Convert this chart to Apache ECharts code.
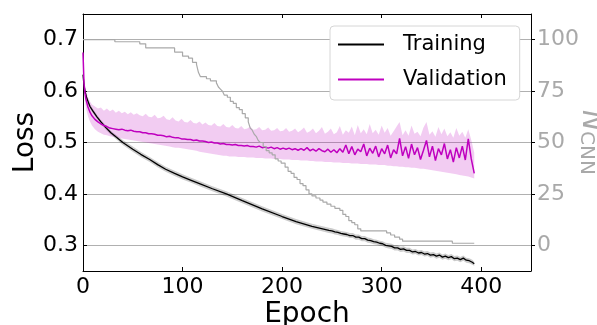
<!DOCTYPE html>
<html>
<head>
<meta charset="utf-8">
<script src="https://cdn.jsdelivr.net/npm/echarts@6/dist/echarts.min.js"></script>
<style>html,body{margin:0;padding:0;background:#fff}#c{width:597px;height:325px}</style>
</head>
<body>
<div id="c"></div>
<script>
// ---- data ----
const xTicks = [0, 100, 200, 300, 400];
const lossTicks = [0.3, 0.4, 0.5, 0.6, 0.7];
const nTicks = [0, 25, 50, 75, 100];

// training: [epoch, mean loss, band half-width]
const training = [
[0,0.632,0.003],[1,0.612,0.004],[2,0.600,0.004],[4,0.585,0.004],[7,0.570,0.004],[10,0.561,0.004],
[14,0.550,0.004],[18,0.540,0.004],[23,0.529,0.004],[28,0.519,0.004],[33,0.511,0.004],[40,0.500,0.005],
[50,0.487,0.005],[58,0.477,0.005],[67,0.467,0.005],[75,0.457,0.005],[83,0.448,0.005],[92,0.440,0.005],
[100,0.433,0.005],[108,0.427,0.005],[117,0.420,0.005],[130,0.410,0.005],[144,0.400,0.005],[160,0.387,0.005],
[180,0.371,0.005],[200,0.356,0.005],[214,0.346,0.005],[230,0.337,0.005],[247,0.329,0.005],
[250,0.328,0.005],[253,0.326,0.005],[256,0.325,0.005],[259,0.323,0.005],[262,0.322,0.005],[265,0.321,0.005],
[268,0.319,0.005],[271,0.319,0.005],[274,0.316,0.005],[277,0.316,0.005],[280,0.313,0.005],[283,0.313,0.005],
[286,0.310,0.005],[289,0.309,0.005],[292,0.307,0.005],[295,0.306,0.005],[298,0.304,0.005],[301,0.303,0.005],
[304,0.300,0.005],[307,0.299,0.005],[310,0.298,0.005],[313,0.295,0.005],[316,0.295,0.005],[319,0.292,0.005],
[322,0.293,0.005],[325,0.290,0.005],[328,0.290,0.005],[331,0.287,0.005],[334,0.288,0.005],[337,0.285,0.005],
[340,0.286,0.005],[343,0.283,0.005],[346,0.284,0.005],[349,0.281,0.005],[352,0.282,0.005],[355,0.279,0.005],
[358,0.281,0.005],[361,0.277,0.005],[364,0.279,0.005],[367,0.276,0.005],[370,0.278,0.005],[373,0.274,0.005],
[376,0.275,0.005],[379,0.272,0.005],[382,0.275,0.005],[385,0.271,0.005],[388,0.270,0.005],[391,0.267,0.005],
[393,0.264,0.004]
];

// validation: [epoch, mean loss, band low, band high]
const validation = [
[0,0.675,0.672,0.678],[1,0.615,0.600,0.630],[2,0.596,0.580,0.612],[3,0.584,0.567,0.601],[5,0.569,0.551,0.588],
[7,0.559,0.541,0.580],[9,0.552,0.533,0.574],[12,0.545,0.526,0.570],[15,0.540,0.521,0.566],[18,0.536,0.518,0.568],
[21,0.533,0.515,0.562],[24,0.531,0.514,0.566],[27,0.528,0.512,0.561],[30,0.527,0.511,0.564],[33,0.526,0.510,0.558],
[36,0.525,0.509,0.562],[39,0.526,0.508,0.557],[42,0.524,0.507,0.560],[45,0.523,0.506,0.555],[48,0.524,0.505,0.559],
[51,0.522,0.504,0.554],[54,0.521,0.503,0.557],[57,0.521,0.502,0.553],[60,0.519,0.501,0.551],[63,0.519,0.500,0.556],
[66,0.517,0.499,0.550],[69,0.517,0.498,0.549],[72,0.516,0.497,0.554],[75,0.514,0.496,0.547],[78,0.514,0.495,0.548],
[81,0.513,0.494,0.552],[84,0.511,0.493,0.545],[87,0.512,0.492,0.544],[90,0.510,0.491,0.549],[93,0.509,0.490,0.543],
[96,0.509,0.490,0.541],[99,0.507,0.489,0.546],[102,0.507,0.488,0.540],[105,0.506,0.487,0.539],[108,0.506,0.486,0.544],
[111,0.504,0.485,0.538],[114,0.505,0.484,0.537],[117,0.503,0.482,0.541],[120,0.503,0.481,0.535],[123,0.502,0.480,0.539],
[126,0.500,0.479,0.534],[129,0.501,0.478,0.533],[132,0.499,0.477,0.538],[135,0.499,0.476,0.532],[138,0.497,0.475,0.531],
[141,0.498,0.474,0.536],[144,0.496,0.474,0.530],[147,0.496,0.473,0.529],[150,0.495,0.473,0.534],[153,0.496,0.473,0.528],
[156,0.494,0.472,0.527],[159,0.494,0.472,0.532],[162,0.493,0.472,0.526],[165,0.494,0.471,0.527],[168,0.492,0.471,0.531],
[171,0.492,0.471,0.525],[174,0.491,0.470,0.526],[177,0.493,0.470,0.530],[180,0.490,0.470,0.524],[183,0.491,0.469,0.525],
[186,0.489,0.469,0.529],[189,0.491,0.469,0.523],[192,0.488,0.468,0.524],[195,0.490,0.468,0.528],[198,0.487,0.468,0.522],
[201,0.489,0.467,0.523],[204,0.487,0.467,0.528],[207,0.489,0.467,0.521],[210,0.486,0.466,0.523],[213,0.488,0.466,0.527],
[216,0.485,0.466,0.520],[219,0.488,0.465,0.524],[222,0.485,0.465,0.529],[225,0.490,0.465,0.519],[228,0.484,0.464,0.522],
[231,0.487,0.464,0.527],[234,0.483,0.463,0.518],[237,0.488,0.463,0.523],[240,0.484,0.463,0.530],[243,0.482,0.462,0.517],
[246,0.487,0.462,0.521],[249,0.481,0.462,0.527],[252,0.486,0.461,0.516],[255,0.480,0.461,0.520],[258,0.488,0.461,0.532],
[261,0.481,0.460,0.515],[264,0.495,0.460,0.524],[267,0.478,0.460,0.519],[270,0.492,0.459,0.531],[273,0.476,0.459,0.514],
[276,0.487,0.459,0.534],[279,0.482,0.458,0.518],[282,0.497,0.458,0.526],[285,0.474,0.458,0.516],[288,0.489,0.457,0.536],
[291,0.479,0.457,0.518],[294,0.493,0.457,0.525],[297,0.472,0.456,0.515],[300,0.488,0.456,0.533],[303,0.478,0.456,0.519],
[306,0.495,0.455,0.528],[309,0.470,0.455,0.513],[312,0.486,0.454,0.522],[315,0.478,0.454,0.531],[318,0.508,0.453,0.540],
[321,0.474,0.453,0.514],[324,0.492,0.452,0.524],[327,0.469,0.452,0.513],[330,0.497,0.451,0.533],[333,0.476,0.451,0.517],
[336,0.490,0.450,0.521],[339,0.467,0.449,0.512],[342,0.485,0.449,0.529],[345,0.504,0.448,0.540],[348,0.472,0.447,0.515],
[351,0.493,0.446,0.522],[354,0.465,0.445,0.511],[357,0.488,0.444,0.530],[360,0.476,0.443,0.516],[363,0.498,0.442,0.527],
[366,0.468,0.441,0.512],[369,0.486,0.440,0.520],[372,0.462,0.439,0.509],[375,0.490,0.438,0.528],[378,0.470,0.437,0.513],
[381,0.493,0.436,0.521],[384,0.466,0.435,0.509],[387,0.507,0.434,0.526],[390,0.468,0.432,0.505],[393,0.440,0.430,0.480]
];

// number of CNNs: [epoch, N] (value holds until the next epoch listed)
const nCnn = [
[0,100],[32,99],[57,98],[63,96],[92,94],[100,92],[106,91],[110,89],[114,88],[116,84],[118,82],[124,81],[128,80],
[134,79],[136,77],[138,76],[140,75],[142,73],[145,72],[148,70],[151,69],[154,67],[157,66],[160,64],[163,62],[166,60],
[168,57],[170,56],[172,54],[174,53],[176,51],[178,50],[181,48],[184,46],[187,45],[190,44],[193,42],[196,41],[199,40],
[203,38],[206,36],[209,35],[212,33],[215,32],[218,30],[221,29],[224,27],[227,25],[230,24],[234,23],[238,22],[241,21],
[245,20],[249,19],[253,18],[258,17],[261,15],[264,14],[267,12],[270,11],[273,10],[276,8],[279,7],[305,6],[309,5],
[313,4],[318,3],[321,2],[371,1],[393,1]
];

// ---- chart ----
const FONT = 'DejaVu Sans';
const GREY = '#a9a9a9';
const chart = echarts.init(document.getElementById('c'), null, {renderer: 'canvas'});

function band(rows, loF, hiF, fill) {
  return {
    type: 'custom', xAxisIndex: 0, yAxisIndex: 0, silent: true,
    data: [[rows[0][0], rows[0][1]]],
    renderItem: function (params, api) {
      const up = rows.map(r => api.coord([r[0], hiF(r)]));
      const lo = rows.map(r => api.coord([r[0], loF(r)])).reverse();
      return {type: 'polygon', shape: {points: up.concat(lo)}, style: {fill: fill}};
    }
  };
}

const axisLine = {show: true, onZero: false, lineStyle: {color: '#000', width: 1}};

chart.setOption({
  animation: false,
  backgroundColor: '#fff',
  grid: {left: 83, right: 66, top: 14, bottom: 54, containLabel: false, outerBoundsMode: 'none'},
  legend: {
    data: ['Training', 'Validation'],
    orient: 'vertical', left: 330, top: 26,
    icon: 'rect',
    itemWidth: 46, itemHeight: 2, itemGap: 14,
    padding: [8, 13, 10, 8],
    backgroundColor: '#fff', borderColor: '#d6d6d6', borderWidth: 1, borderRadius: 4,
    textStyle: {fontFamily: FONT, fontSize: 21, color: '#000', padding: [0, 0, 0, 14]}
  },
  xAxis: [
    {type: 'value', position: 'bottom', min: 0, max: 450, interval: 100,
     axisLine: axisLine,
     axisTick: {show: true, inside: true, length: 4, lineStyle: {color: '#000'}, customValues: xTicks},
     axisLabel: {fontFamily: FONT, fontSize: 22, color: '#000', margin: 5, customValues: xTicks},
     splitLine: {show: false},
     name: 'Epoch', nameLocation: 'middle', nameGap: 30, nameMoveOverlap: false,
     nameTextStyle: {fontFamily: FONT, fontSize: 28, color: '#000'}},
    {type: 'value', position: 'top', min: 0, max: 450, interval: 100,
     axisLine: axisLine,
     axisTick: {show: true, inside: true, length: 4, lineStyle: {color: '#000'}, customValues: xTicks},
     axisLabel: {show: false}, splitLine: {show: false}}
  ],
  yAxis: [
    {type: 'value', position: 'left', min: 0.25, max: 0.75,
     axisLine: axisLine,
     axisTick: {show: true, inside: true, length: 4, lineStyle: {color: '#000'}, customValues: lossTicks},
     axisLabel: {fontFamily: FONT, fontSize: 22, color: '#000', margin: 5, customValues: lossTicks,
                 formatter: v => v.toFixed(1)},
     splitLine: {show: true, lineStyle: {color: '#b0b0b0', width: 1}},
     name: 'Loss', nameLocation: 'middle', nameRotate: 90, nameGap: 57, nameMoveOverlap: false,
     nameTextStyle: {fontFamily: FONT, fontSize: 28, color: '#000', align: 'center', verticalAlign: 'middle'}},
    {type: 'value', position: 'right', min: -12.5, max: 112.5,
     axisLine: axisLine,
     axisTick: {show: true, inside: false, length: 4, lineStyle: {color: '#000'}, customValues: nTicks},
     axisLabel: {fontFamily: FONT, fontSize: 22, color: GREY, margin: 6, customValues: nTicks},
     splitLine: {show: false},
     name: '{n|N}{s|CNN}', nameLocation: 'middle', nameRotate: -90, nameGap: 59, nameMoveOverlap: false,
     nameTextStyle: {color: GREY, align: 'center', verticalAlign: 'middle', rich: {
       n: {fontFamily: FONT, fontSize: 28, fontStyle: 'italic', color: GREY},
       s: {fontFamily: FONT, fontSize: 20, color: GREY, verticalAlign: 'bottom'}
     }}}
  ],
  series: [
    Object.assign(band(training, r => r[1] - r[2], r => r[1] + r[2], 'rgba(0,0,0,0.2)'), {z: 2}),
    Object.assign(band(validation, r => r[2], r => r[3], 'rgba(191,0,191,0.2)'), {z: 2}),
    {name: 'Training', type: 'line', xAxisIndex: 0, yAxisIndex: 0, z: 3,
     data: training.map(r => [r[0], r[1]]), showSymbol: false, color: '#000',
     lineStyle: {color: '#000', width: 1.3}},
    {name: 'Validation', type: 'line', xAxisIndex: 0, yAxisIndex: 0, z: 4,
     data: validation.map(r => [r[0], r[1]]), showSymbol: false, color: '#bf00bf',
     lineStyle: {color: '#bf00bf', width: 1.5}},
    {name: 'NCNN', type: 'line', xAxisIndex: 0, yAxisIndex: 1, z: 5, step: 'end',
     data: nCnn, showSymbol: false, color: GREY,
     lineStyle: {color: GREY, width: 1.2}}
  ]
});
</script>
</body>
</html>
